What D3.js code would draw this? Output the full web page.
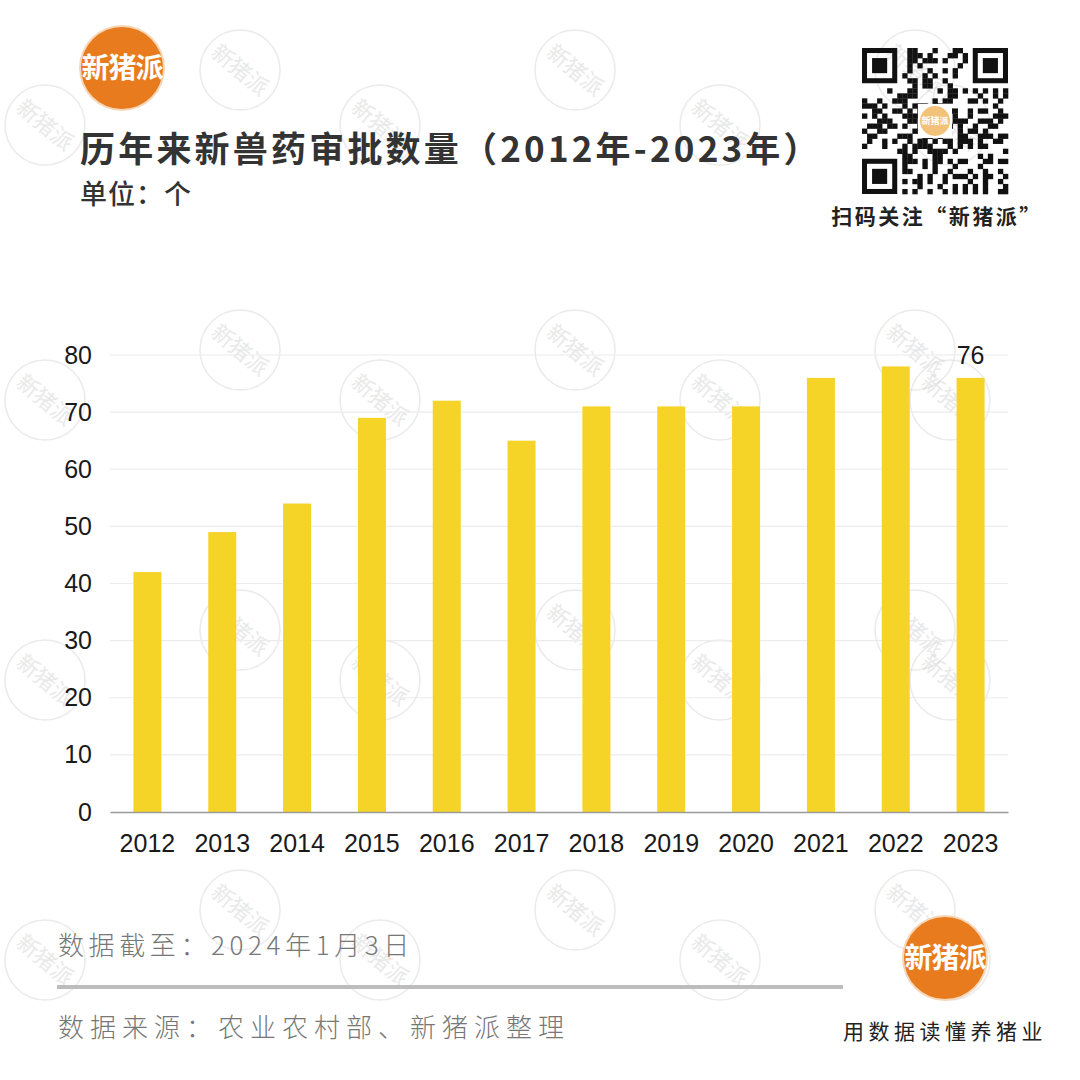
<!DOCTYPE html>
<html><head><meta charset="utf-8">
<script src="https://cdn.jsdelivr.net/npm/d3@7"></script>
<style>
html,body{margin:0;padding:0;background:#fff;}
svg{display:block;font-family:"Noto Sans CJK SC","Noto Sans",sans-serif;}
</style></head>
<body>
<svg id="chart" width="1080" height="1080"></svg>
<script>
const years = ["2012","2013","2014","2015","2016","2017","2018","2019","2020","2021","2022","2023"];
const approvals = [42,49,54,69,72,65,71,71,71,76,78,76];
const yTicks = [0,10,20,30,40,50,60,70,80];
const title = "历年来新兽药审批数量（2012年-2023年）";
const unitLabel = "单位：个";
const dateNote = "数据截至：2024年1月3日";
const sourceNote = "数据来源：农业农村部、新猪派整理";
const slogan = "用数据读懂养猪业";
const qrNote = "扫码关注“新猪派”";
const brand = "新猪派";

const svg = d3.select("#chart");
svg.append("rect").attr("width",1080).attr("height",1080).attr("fill","#fff");

// watermarks
const wmLayer = svg.append("g");
const wmA = [240,575,915], wmB = [45,380,720,950];
[70,350,630,910].forEach(y=>wmA.forEach(x=>addWm(x,y)));
[125,400,680,960].forEach(y=>wmB.forEach(x=>addWm(x,y)));
function addWm(x,y){
  const g = wmLayer.append("g").attr("transform",`translate(${x},${y})`).attr("opacity",0.5);
  g.append("circle").attr("r",40).attr("fill","none").attr("stroke","#d8d8d8").attr("stroke-width",1.5);
  g.append("text").attr("transform","rotate(40)").attr("text-anchor","middle").attr("dy","0.35em")
    .attr("font-size",22).attr("fill","#d4d4d4").text(brand);
}

// chart
const x = d3.scaleBand().domain(years).range([110,1008]).paddingInner(0.626).paddingOuter(0.313);
const y = d3.scaleLinear().domain([0,80]).range([812,355]);

const grid = svg.append("g");
grid.selectAll("line").data(yTicks.filter(d=>d>0)).join("line")
  .attr("x1",110).attr("x2",1008).attr("y1",d=>y(d)).attr("y2",d=>y(d))
  .attr("stroke","#ececec").attr("stroke-width",1.2);

svg.append("g").selectAll("rect").data(approvals).join("rect")
  .attr("x",(d,i)=>x(years[i])).attr("width",x.bandwidth())
  .attr("y",d=>y(d)).attr("height",d=>y(0)-y(d)).attr("fill","#F5D327");

const yAxis = svg.append("g").attr("transform","translate(110,0)")
  .call(d3.axisLeft(y).tickValues(yTicks).tickSize(0).tickPadding(18));
yAxis.select(".domain").remove();
yAxis.selectAll("text").attr("font-size",25).attr("fill","#1a1a1a")
  .attr("font-family","Liberation Sans, Arial, sans-serif");

const xAxis = svg.append("g").attr("transform","translate(0,812)")
  .call(d3.axisBottom(x).tickSize(0).tickPadding(22));
xAxis.select(".domain").attr("stroke","#9a9a9a").attr("stroke-width",1.5);
xAxis.selectAll("text").attr("font-size",25).attr("fill","#1a1a1a")
  .attr("font-family","Liberation Sans, Arial, sans-serif");

// label on last bar
const li = years.length-1;
svg.append("text").attr("x",x(years[li])+x.bandwidth()/2).attr("y",y(approvals[li])-14)
  .attr("text-anchor","middle").attr("font-size",25).attr("fill","#1a1a1a")
  .attr("font-family","Liberation Sans, Arial, sans-serif").text(approvals[li]);

// title
svg.append("text").attr("x",80).attr("y",162).attr("font-size",35).attr("font-weight",700)
  .attr("letter-spacing",3.2).attr("fill","#333").text(title);
svg.append("text").attr("x",80).attr("y",204).attr("font-size",27).attr("font-weight",500)
  .attr("letter-spacing",1).attr("fill","#333").text(unitLabel);

// logos
function logo(cx,cy,r){
  const g = svg.append("g").attr("transform",`translate(${cx},${cy})`);
  g.append("circle").attr("r",r+2).attr("fill","#f6d7b8");
  g.append("circle").attr("r",r).attr("fill","#E87B1E");
  g.append("text").attr("text-anchor","middle").attr("dy","0.36em").attr("font-size",28)
    .attr("font-weight",700).attr("letter-spacing",-1).attr("fill","#fff").text(brand);
}
logo(122,68,41);
logo(945,958,41);

// QR-like block
const qr = svg.append("g").attr("transform","translate(862,48)");
const n = 29, cell = 146/n;
for(let i=0;i<n;i++){for(let j=0;j<n;j++){
  const inFinder = (i<8&&j<8)||(i<8&&j>=n-8)||(i>=n-8&&j<8);
  if(inFinder) continue;
  const v = ((i*7+j*13+(i*j)%5)^(i+j*3))%5;
  if(v<2) qr.append("rect").attr("x",j*cell).attr("y",i*cell).attr("width",cell+0.3).attr("height",cell+0.3).attr("fill","#111");
}}
[[0,0],[0,n-7],[n-7,0]].forEach(([i,j])=>{
  qr.append("rect").attr("x",j*cell+cell/2).attr("y",i*cell+cell/2).attr("width",cell*6).attr("height",cell*6)
    .attr("fill","none").attr("stroke","#111").attr("stroke-width",cell);
  qr.append("rect").attr("x",(j+2)*cell).attr("y",(i+2)*cell).attr("width",cell*3).attr("height",cell*3).attr("fill","#111");
});
qr.append("rect").attr("x",56).attr("y",56).attr("width",34).attr("height",34).attr("fill","#fff");
qr.append("circle").attr("cx",73).attr("cy",73).attr("r",15).attr("fill","#f3c27a");
qr.append("text").attr("x",73).attr("y",73).attr("dy","0.36em").attr("text-anchor","middle")
  .attr("font-size",9).attr("fill","#fff").attr("font-weight",700).text(brand);
svg.append("text").attr("x",937).attr("y",224).attr("text-anchor","middle").attr("font-size",21)
  .attr("font-weight",700).attr("fill","#222").attr("letter-spacing",2.5).text(qrNote);

// footer
svg.append("text").attr("x",58).attr("y",955).attr("font-size",26).attr("fill","#777")
  .attr("letter-spacing",4.6).attr("font-weight",300).text(dateNote);
svg.append("line").attr("x1",57).attr("x2",843).attr("y1",987).attr("y2",987)
  .attr("stroke","#bdbdbd").attr("stroke-width",4);
svg.append("text").attr("x",58).attr("y",1037).attr("font-size",26).attr("fill","#777")
  .attr("letter-spacing",6).attr("font-weight",300).text(sourceNote);
svg.append("text").attr("x",945).attr("y",1039).attr("text-anchor","middle").attr("font-size",21)
  .attr("fill","#222").attr("letter-spacing",4.5).text(slogan);
</script>
</body></html>
